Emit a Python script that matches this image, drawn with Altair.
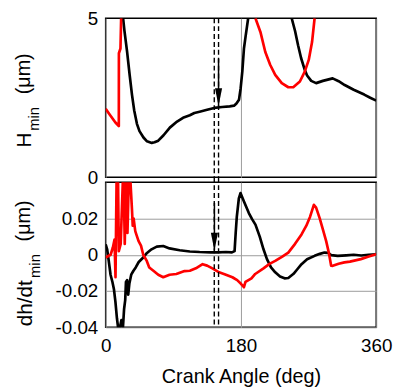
import altair as alt
import pandas as pd

# ---------------- data ----------------
# Top panel: H_min (um) vs crank angle (deg); each list is one visible segment
top_black_1_angle = [23.2, 25, 28.5, 32, 35, 38, 41.6, 45, 50.3, 55, 61.3, 65, 70, 77, 85.4, 95, 102.9,
                     112, 118, 125, 135, 144.5, 155, 165, 170.8, 174, 177.4, 179.6, 181.8, 184, 186, 189.6]
top_black_1_h = [5.0, 4.6, 3.95, 3.2, 2.6, 2.1, 1.68, 1.45, 1.25, 1.13, 1.08, 1.1, 1.15, 1.32, 1.56, 1.75, 1.87,
                 1.95, 2.02, 2.06, 2.12, 2.18, 2.21, 2.23, 2.25, 2.32, 2.44, 2.8, 3.32, 4.05, 4.4, 5.0]
top_black_2_angle = [247.5, 252, 256, 260, 265, 268, 273.5, 280, 289, 302, 310, 318, 330, 344, 352, 360]
top_black_2_h = [5.0, 4.6, 4.15, 3.75, 3.37, 3.2, 3.03, 2.96, 3.03, 3.11, 3.02, 2.9, 2.75, 2.6, 2.5, 2.41]

top_red_1_angle = [0, 6, 13, 17.5, 17.6, 19.7, 20.6]
top_red_1_h = [2.15, 1.95, 1.72, 1.61, 3.9, 4.05, 5.0]
top_red_2_angle = [199.3, 205.9, 212.4, 219, 225.6, 234.3, 243, 249.6, 258.4, 264.9, 270.2, 274.6, 278]
top_red_2_h = [5.0, 4.57, 3.94, 3.53, 3.22, 2.96, 2.83, 2.83, 3.01, 3.32, 3.69, 4.25, 5.0]

# Bottom panel: dh/dt_min (um) vs crank angle (deg)
bot_black_angle = [0, 2, 4, 6.5, 9, 11, 13, 15, 16.5, 19, 21, 23, 24.5, 26, 27, 28.5, 30, 31.5, 34, 37, 40,
                   44, 50, 55, 61, 68, 76.6, 85, 98.5, 112, 125, 140, 150, 160, 168, 171.5, 173, 174.5,
                   177.2, 179.4, 184, 190.5, 195, 199.3, 205, 210, 214.6, 220, 225.6, 232, 238, 243, 250,
                   255, 260.6, 268, 278, 285, 291, 296, 300, 308.8, 320, 330, 340, 350, 360]
bot_black_v = [0.0057, 0.003, -0.003, -0.011, -0.015, -0.019, -0.026, -0.035, -0.04, -0.04, -0.036,
               -0.04, -0.03, -0.025, -0.015, -0.014, -0.022, -0.016, -0.011, -0.0088, -0.007,
               -0.004, -0.0015, 0.001, 0.003, 0.0045, 0.0048, 0.0035, 0.0025, 0.0018, 0.0015, 0.0013,
               0.0013, 0.0015, 0.0013, 0.002, 0.012, 0.021, 0.031, 0.034, 0.0293, 0.023, 0.0195,
               0.0166, 0.01, 0.003, -0.0024, -0.007, -0.0097, -0.012, -0.013, -0.0128, -0.0105,
               -0.008, -0.0052, -0.0025, -0.0006, 0.0005, 0.0012, 0.001, -0.0002, -0.0006, -0.0003,
               0.0, -0.0004, 0.0, 0.0003]

bot_red_angle = [0, 6.6, 9.6, 11.8, 13.1, 14.5, 16.5, 17.5, 20, 22.8, 24, 25.4, 26.5, 27.6, 29, 30.7, 33,
                 35, 36, 37.2, 39.4, 41, 43.8, 47, 50, 54.7, 58, 63.5, 70, 76.6, 85, 94, 105, 112, 120,
                 129, 135, 142, 151, 160, 168.6, 175, 180, 184, 186, 190, 194, 199, 210, 218, 225.6,
                 235, 243, 252, 260.6, 267, 272, 277, 280, 284.7, 289, 293.4, 297, 300, 302.2, 310,
                 317.6, 325, 339.5, 350, 360]
bot_red_v = [-0.0015, 0.0, 0.004, 0.0084, -0.0124, 0.04, 0.04, 0.002, 0.006, 0.04, 0.04, 0.006, 0.03,
             0.04, 0.012, 0.04, 0.04, 0.025, 0.016, 0.02, 0.013, 0.011, 0.0075, 0.005, 0.0, -0.0034,
             -0.007, -0.0088, -0.011, -0.0124, -0.011, -0.0106, -0.009, -0.0088, -0.0075, -0.0052,
             -0.006, -0.0075, -0.0097, -0.011, -0.0124, -0.014, -0.016, -0.0179, -0.015, -0.014,
             -0.013, -0.0106, -0.0075, -0.005, -0.0034, -0.001, 0.0012, 0.006, 0.0112, 0.016, 0.021,
             0.0275, 0.026, 0.0202, 0.014, 0.0075, 0.001, -0.006, -0.0061, -0.005, -0.0042, -0.0038,
             -0.0024, -0.001, 0.0003]

# marker lines and arrows
dashed_angles = [144.5, 150.2]
top_arrow_angle = [150.2]
top_arrow_from = [3.73]
top_arrow_to = [2.24]
bot_arrow_angle = [144.7]
bot_arrow_from = [0.0286]
bot_arrow_to = [0.0024]

x_ticks = [0, 180, 360]
top_y_ticks = [0, 5]
bot_y_ticks = [-0.04, -0.02, 0, 0.02]


def frame(parts):
    rows = []
    for series, seg, xs, ys in parts:
        for i, (a, v) in enumerate(zip(xs, ys)):
            rows.append({"angle": a, "value": v, "series": series, "seg": seg, "idx": i})
    return pd.DataFrame(rows)


top_df = frame([("black", "b1", top_black_1_angle, top_black_1_h),
                ("black", "b2", top_black_2_angle, top_black_2_h),
                ("red", "r1", top_red_1_angle, top_red_1_h),
                ("red", "r2", top_red_2_angle, top_red_2_h)])
bot_df = frame([("black", "b", bot_black_angle, bot_black_v),
                ("red", "r", bot_red_angle, bot_red_v)])

FONT = "Liberation Sans"
GRID = "#9a9a9a"
color = alt.Color("series:N", scale=alt.Scale(domain=["black", "red"], range=["#000000", "#ff0000"]),
                  legend=None)
head_shape = "M-0.4,-1L0.4,-1L0,1Z"


def title_parts(parts):
    layers = []
    for txt, size, dx, dy in parts:
        layers.append(
            alt.Chart(pd.DataFrame({"t": [txt]})).mark_text(
                angle=270, align="left", baseline="alphabetic", font=FONT, fontSize=size, color="black"
            ).encode(text="t:N", x=alt.value(dx), y=alt.value(dy))
        )
    return layers


def panel(df, ydomain, yaxis, xaxis, height, arrow_x, arrow_from, arrow_to, titles, dash_top):
    xs = alt.Scale(domain=[0, 360], nice=False, zero=False)
    ys = alt.Scale(domain=ydomain, nice=False, zero=False)
    X = lambda f: alt.X(f, scale=xs, axis=xaxis)
    Y = lambda f: alt.Y(f, scale=ys, axis=yaxis)
    lines = alt.Chart(df).mark_line(strokeWidth=2.7, clip=True, strokeJoin="round").encode(
        x=X("angle:Q"), y=Y("value:Q"), color=color, detail="seg:N", order="idx:Q")
    dashes = alt.Chart(pd.DataFrame({"angle": dashed_angles})).mark_rule(
        color="black", strokeWidth=1.4, strokeDash=[5, 3]).encode(
        x=X("angle:Q"), y=alt.value(dash_top), y2=alt.value(height))
    adf = pd.DataFrame({"angle": arrow_x, "y1": arrow_from, "y2": arrow_to})
    shaft = alt.Chart(adf).mark_rule(color="black", strokeWidth=1.5).encode(
        x=X("angle:Q"), y=Y("y1:Q"), y2="y2:Q")
    head = alt.Chart(adf).mark_point(shape=head_shape, filled=True, size=324, color="black",
                                     opacity=1, yOffset=-9).encode(x=X("angle:Q"), y=Y("y2:Q"))
    return alt.layer(lines, dashes, shaft, head, *title_parts(titles)).properties(width=274, height=height)


top_yaxis = alt.Axis(values=top_y_ticks, title=None, ticks=False, domain=False, labelFontSize=19,
                     labelFont=FONT, labelColor="black", labelPadding=8, labelOverlap=False,
                     labelBound=False, grid=False, format="d")
top_xaxis = alt.Axis(values=x_ticks, title=None, labels=False, ticks=False, domain=False,
                     grid=True, gridColor=GRID, gridWidth=1)
bot_yaxis = alt.Axis(values=bot_y_ticks, title=None, ticks=False, domain=False, labelFontSize=19,
                     labelFont=FONT, labelColor="black", labelPadding=8, labelOverlap=False,
                     labelBound=False, grid=True, gridColor=GRID, gridWidth=1,
                     labelExpr="datum.value == 0 ? '0' : (datum.value < 0 ? '-' : '') + format(abs(datum.value), '.2f')")
bot_xaxis = alt.Axis(values=x_ticks, title="Crank Angle (deg)", ticks=False, domain=False,
                     labelFontSize=19, labelFont=FONT, labelColor="black", labelPadding=9,
                     labelFlush=False, labelOverlap=False, titleFont=FONT, titleFontSize=20,
                     titleFontWeight="normal", titleColor="black", titlePadding=12,
                     grid=True, gridColor=GRID, gridWidth=1, format="d")

top = panel(top_df, [0, 5], top_yaxis, top_xaxis, 161, top_arrow_angle, top_arrow_from, top_arrow_to,
            [("H", 21, -76, 131), ("min", 15, -68, 114), ("(\u03bcm)", 20, -77, 77)], 0)
bottom = panel(bot_df, [-0.04, 0.04], bot_yaxis, bot_xaxis, 147, bot_arrow_angle, bot_arrow_from,
               bot_arrow_to, [("dh/dt", 21, -75, 146), ("min", 15, -67, 97), ("(\u03bcm)", 20, -77, 60)], -5)

chart = alt.vconcat(top, bottom, spacing=5, bounds="flush").properties(
    padding={"left": 13, "top": 6, "right": 2, "bottom": 2}, background="white"
).configure_view(stroke="black", strokeWidth=1.5)

chart.save("out.html", embed_options={"renderer": "svg", "actions": False})
